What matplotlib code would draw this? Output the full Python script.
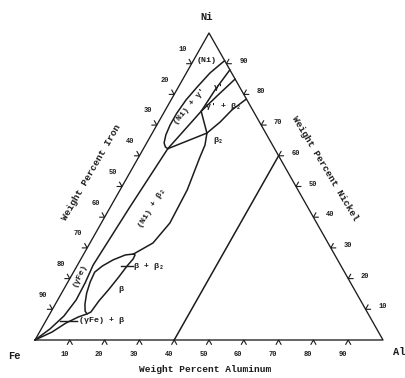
import numpy as np
import matplotlib.pyplot as plt

# Fe-Ni-Al isothermal section, compositions as (wt% Al, wt% Ni), Fe is the balance
tick_values = [10, 20, 30, 40, 50, 60, 70, 80, 90]

ni_solvus = [(9.0, 91.0), (6.8, 87.0), (5.4, 82.4), (4.3, 78.2), (3.8, 73.9), (3.8, 70.0),
             (4.2, 66.8), (5.0, 64.2), (6.0, 62.9), (7.0, 62.3)]
gp_left = [(12.0, 88.0), (11.0, 81.4), (10.5, 74.5), (7.0, 62.3)]
gp_right = [(15.0, 85.0), (12.7, 79.8), (10.5, 74.5)]
gp_b2_tie = [(10.5, 74.5), (15.7, 67.4)]
b2_top = [(21.5, 78.5), (19.1, 74.9), (17.7, 71.0), (15.7, 67.4)]
three_phase_tie = [(15.7, 67.4), (7.0, 62.3)]
b2_left = [(15.7, 67.4), (17.1, 63.5), (17.6, 59.6), (19.3, 48.9), (19.7, 38.1),
           (18.1, 31.6), (14.3, 28.0)]
gamma_boundary = [(7.0, 62.3), (5.6, 43.3), (4.5, 24.4), (5.1, 18.6), (5.3, 13.0),
                  (4.4, 7.8), (2.5, 3.6), (0.0, 0.0)]
beta_b2_loop = [(14.3, 28.0), (12.1, 27.7), (9.4, 26.1), (7.3, 24.1), (6.1, 22.1),
                (6.4, 18.9), (7.2, 15.3), (8.5, 11.7), (9.7, 9.4), (10.7, 8.5),
                (11.5, 9.1), (12.0, 12.7), (13.0, 16.6), (13.8, 20.5), (14.4, 24.1),
                (15.0, 26.4), (14.9, 27.7), (14.3, 28.0)]
beta_boundary = [(0.0, 0.0), (3.6, 2.6), (6.1, 5.5), (8.7, 7.5), (10.7, 8.5)]
al40_line = [(40.0, 0.0), (40.0, 60.0)]

boundaries = [ni_solvus, gp_left, gp_right, gp_b2_tie, b2_top, three_phase_tie,
              b2_left, gamma_boundary, beta_b2_loop, beta_boundary, al40_line]

# phase labels: text, (Al, Ni), rotation
phase_labels = [
    ("(Ni)", (3.8, 91.2), 0),
    ("(Ni) + γ'", (6.5, 75.9), 50),
    ("γ'", (11.7, 82.4), 0),
    ("γ' + β₂", (16.2, 76.2), 0),
    ("β₂", (20.0, 65.1), 0),
    ("(Ni) + β₂", (12.1, 43.0), 58),
    ("(γFe)", (2.3, 21.2), 65),
    ("β", (16.4, 16.6), 0),
]
# labels with a leader line: text, leader start, leader end
leader_labels = [
    ("β + β₂", (12.7, 24.1), (16.1, 24.1)),
    ("(γFe) + β", (4.1, 6.2), (9.0, 6.2)),
]

INK = '#1c1c1c'
FONT = ['Liberation Mono', 'DejaVu Sans Mono']
H = np.sqrt(3) / 2


def tern(al, ni):
    """Convert (Al, Ni) composition to cartesian coordinates."""
    return al + ni / 2, ni * H


def xy_list(points):
    pts = np.array(points, dtype=float)
    return tern(pts[:, 0], pts[:, 1])


def label(ax, x, y, text, size, **kw):
    ax.text(x, y, text, fontsize=size, family=FONT, fontweight='bold', color=INK, **kw)


def chevron(ax, al, ni, angles, size=1.4):
    x0, y0 = tern(al, ni)
    a1, a2 = np.radians(angles)
    ax.plot([x0 + size * np.cos(a1), x0, x0 + size * np.cos(a2)],
            [y0 + size * np.sin(a1), y0, y0 + size * np.sin(a2)],
            color=INK, lw=0.8, solid_joinstyle='miter')


fig = plt.figure(figsize=(4.06, 3.78), dpi=100)
ax = fig.add_axes([0, 0, 1, 1])
ax.set_xlim(-10.06, 106.61)
ax.set_ylim(-10.72, 95.91)
ax.axis('off')

# triangle outline
corners = [(0, 0), (100, 0), (0, 100), (0, 0)]
cx, cy = xy_list(corners)
ax.plot(cx, cy, color=INK, lw=0.95)

# phase boundaries
for line in boundaries:
    x, y = xy_list(line)
    ax.plot(x, y, color=INK, lw=1.1, solid_joinstyle='round', solid_capstyle='round')

# ticks and tick labels
for v in tick_values:
    # bottom edge: Al
    chevron(ax, v, 0, (240, 300))
    bx, by = tern(v, 0)
    label(ax, bx - 1.6, by - 4.1, str(v), 5, ha='center', va='center')
    # left edge: Fe (Al = 0)
    chevron(ax, 0, 100 - v, (120, 180))
    lx, ly = tern(0, 100 - v)
    label(ax, lx - 2.6, ly + 4.0, str(v), 5, ha='center', va='center')
    # right edge: Ni (Fe = 0)
    chevron(ax, 100 - v, v, (0, 60))
    rx, ry = tern(100 - v, v)
    label(ax, rx + 4.9, ry + 0.7, str(v), 5, ha='center', va='center')

# corner and axis titles
label(ax, 49.4, 91.1, "Ni", 7.5, ha='center', va='center')
label(ax, -6.0, -4.5, "Fe", 7.5, ha='center', va='center')
label(ax, 104.6, -3.4, "Al", 7.5, ha='center', va='center')
label(ax, 48.9, -8.3, "Weight Percent Aluminum", 6.8, ha='center', va='center')
label(ax, 16.1, 47.4, "Weight Percent Iron", 6.8, ha='center', va='center',
      rotation=60, rotation_mode='anchor')
label(ax, 83.3, 48.5, "Weight Percent Nickel", 6.8, ha='center', va='center',
      rotation=-59, rotation_mode='anchor')

# phase labels
for text, (al, ni), rot in phase_labels:
    x, y = tern(al, ni)
    label(ax, x, y, text, 6, ha='center', va='center', rotation=rot, rotation_mode='anchor')

for text, start, end in leader_labels:
    x, y = xy_list([start, end])
    ax.plot(x, y, color=INK, lw=1.0)
    label(ax, x[1] + 0.4, y[1], text, 6, ha='left', va='center')

fig.savefig('out.png', dpi=100)
